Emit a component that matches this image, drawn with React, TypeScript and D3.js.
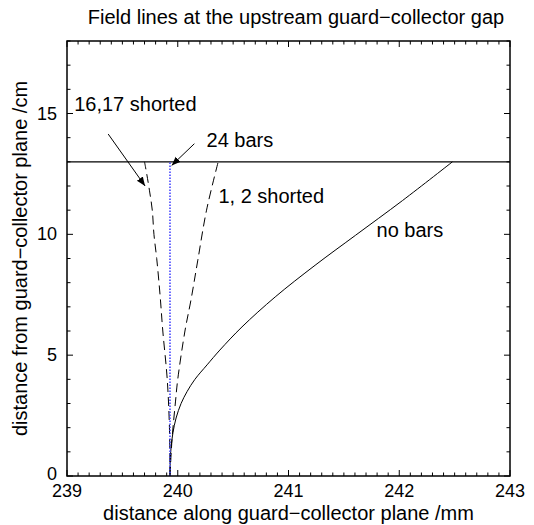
import React from "react";
import * as d3 from "d3";

const titleText = "Field lines at the upstream guard\u2212collector gap";
const xLabel = "distance along guard\u2212collector plane /mm";
const yLabel = "distance from guard\u2212collector plane /cm";

const xDomain = [239, 243];
const yDomain = [0, 18];
const xTicks = [239, 240, 241, 242, 243];
const yTicks = [0, 5, 10, 15];

// no bars (solid)
const noBarsX = [239.93, 239.932, 239.94, 239.957, 239.985, 240.03, 240.085, 240.155, 240.265, 240.38, 240.58, 240.88, 241.24, 241.605, 242.03, 242.48];
const noBarsY = [0, 0.6, 1.2, 1.8, 2.4, 3.0, 3.5, 4.0, 4.6, 5.21, 6.17, 7.41, 8.72, 9.96, 11.4, 13.0];

// 1, 2 shorted (dashed)
const short12X = [239.93, 239.948, 239.98, 240.0, 240.065, 240.12, 240.18, 240.26, 240.365];
const short12Y = [0, 1.5, 3.1, 4.0, 6.0, 7.3, 8.9, 11.0, 13.0];

// 16,17 shorted (dashed)
const short1617X = [239.93, 239.925, 239.905, 239.865, 239.84, 239.81, 239.785, 239.77, 239.745, 239.72, 239.7];
const short1617Y = [0, 2, 4, 6, 7.5, 9, 10, 11, 11.8, 12.5, 13.0];

// 24 bars (blue dotted)
const bars24X = [239.93, 239.93];
const bars24Y = [0, 13];

// horizontal line at top of gap
const gapTopX = [239, 243];
const gapTopY = [13, 13];

const labels = [
  { text: "16,17 shorted", x: 239.065, y: 15.1 },
  { text: "24 bars", x: 240.26, y: 13.6 },
  { text: "1, 2 shorted", x: 240.367, y: 11.29 },
  { text: "no bars", x: 241.795, y: 9.9 },
];

const arrows = [
  { x1: 239.372, y1: 14.15, x2: 239.705, y2: 12.0 },
  { x1: 240.15, y1: 13.75, x2: 239.945, y2: 12.85 },
];

export default function App() {
  const W = 534, H = 525;
  const left = 67, right = 510, top = 41, bottom = 476;
  const x = d3.scaleLinear().domain(xDomain).range([left, right]);
  const y = d3.scaleLinear().domain(yDomain).range([bottom, top]);
  const line = (xs: number[], ys: number[]) =>
    d3.line<number>().x((_, i) => x(xs[i])).y((_, i) => y(ys[i])).curve(d3.curveCatmullRom.alpha(0.5))(xs) || "";

  const xMinor = d3.range(239, 243.0001, 0.1);
  const yMinor = d3.range(0, 18.0001, 1);
  const font = "Liberation Sans, Arial, Helvetica, sans-serif";

  return (
    <svg width={W} height={H} style={{ position: "absolute", left: 0, top: 0, background: "#fff" }} fontFamily={font}>
      <defs>
        <marker id="ah" viewBox="0 0 10 10" refX="10" refY="5" markerWidth="9" markerHeight="9" orient="auto" markerUnits="userSpaceOnUse">
          <path d="M0,1 L10,5 L0,9 Z" fill="#000" />
        </marker>
      </defs>
      <text x={296} y={24} fontSize={20} textAnchor="middle" fill="#000">{titleText}</text>

      {/* curves */}
      <path d={line(gapTopX, gapTopY)} stroke="#000" strokeWidth={1.2} fill="none" />
      <path d={line(noBarsX, noBarsY)} stroke="#000" strokeWidth={1} fill="none" />
      <path d={line(short12X, short12Y)} stroke="#000" strokeWidth={1} fill="none" strokeDasharray="9,5" />
      <path d={line(short1617X, short1617Y)} stroke="#000" strokeWidth={1} fill="none" strokeDasharray="9,5" />
      <path d={line(bars24X, bars24Y)} stroke="#3a3aff" strokeWidth={1.5} fill="none" strokeDasharray="1.5,1.5" />

      {/* arrows */}
      {arrows.map((a, i) => (
        <line key={i} x1={x(a.x1)} y1={y(a.y1)} x2={x(a.x2)} y2={y(a.y2)} stroke="#000" strokeWidth={1} markerEnd="url(#ah)" />
      ))}

      {/* labels */}
      {labels.map((l, i) => (
        <text key={i} x={x(l.x)} y={y(l.y)} fontSize={20} fill="#000">{l.text}</text>
      ))}

      {/* frame */}
      <rect x={left} y={top} width={right - left} height={bottom - top} fill="none" stroke="#000" strokeWidth={1.5} />

      {/* x ticks */}
      {xMinor.map((v, i) => {
        const major = Math.abs(v - Math.round(v)) < 1e-6;
        const len = major ? 6 : 3.5;
        return (
          <g key={"xt" + i}>
            <line x1={x(v)} x2={x(v)} y1={bottom} y2={bottom - len} stroke="#000" strokeWidth={1} />
            <line x1={x(v)} x2={x(v)} y1={top} y2={top + len} stroke="#000" strokeWidth={1} />
          </g>
        );
      })}
      {yMinor.map((v, i) => {
        const major = v % 5 === 0;
        const len = major ? 6 : 3.5;
        return (
          <g key={"yt" + i}>
            <line x1={left} x2={left + len} y1={y(v)} y2={y(v)} stroke="#000" strokeWidth={1} />
            <line x1={right} x2={right - len} y1={y(v)} y2={y(v)} stroke="#000" strokeWidth={1} />
          </g>
        );
      })}
      {xTicks.map((v) => (
        <text key={"xl" + v} x={x(v)} y={bottom + 21} fontSize={18} textAnchor="middle" fill="#000">{v}</text>
      ))}
      {yTicks.map((v) => (
        <text key={"yl" + v} x={left - 10} y={y(v) + (v === 0 ? 4 : 6)} fontSize={18} textAnchor="end" fill="#000">{v}</text>
      ))}

      <text x={(left + right) / 2} y={520} fontSize={20} textAnchor="middle" fill="#000">{xLabel}</text>
      <text transform={`translate(27,${(top + bottom) / 2}) rotate(-90)`} fontSize={20} textAnchor="middle" fill="#000">{yLabel}</text>
    </svg>
  );
}
